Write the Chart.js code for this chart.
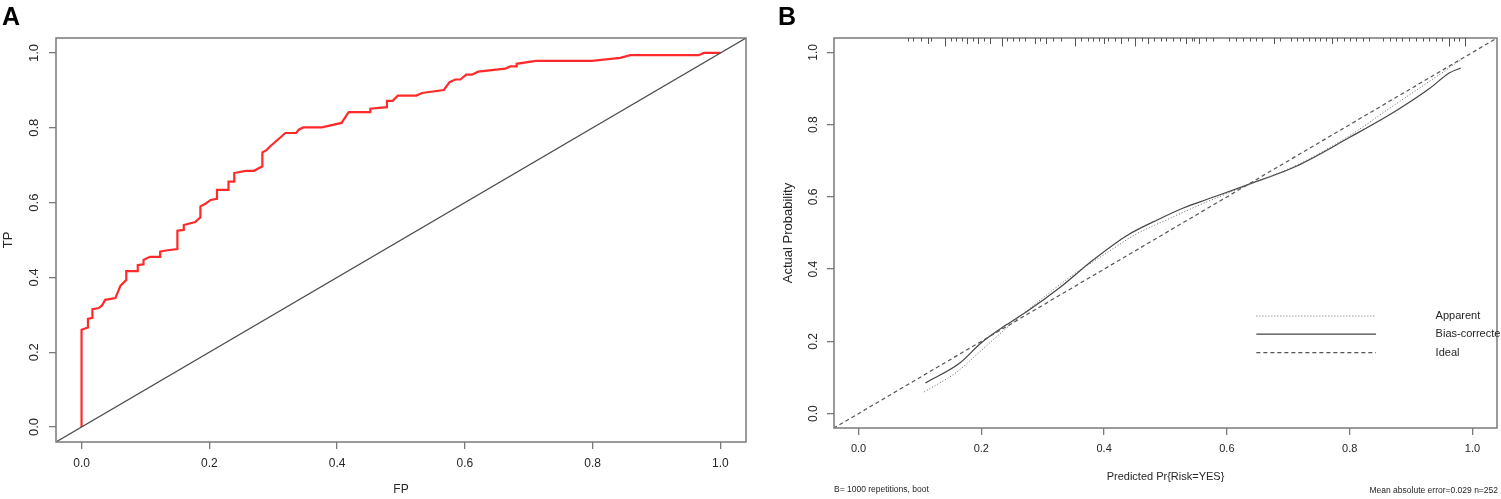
<!DOCTYPE html>
<html>
<head>
<meta charset="utf-8">
<script src="https://cdn.jsdelivr.net/npm/chart.js@4.4.0/dist/chart.umd.min.js"></script>
<style>
  html, body { margin: 0; padding: 0; background: #fff; overflow: hidden; }
  #wrapA { position: absolute; left: 0; top: 0; width: 750px; height: 499px; }
  #wrapB { position: absolute; left: 760px; top: 0; width: 741px; height: 499px; }
</style>
</head>
<body>
<div id="wrapA"><canvas id="rocChart" width="750" height="499"></canvas></div>
<div id="wrapB"><canvas id="calChart" width="741" height="499"></canvas></div>
<script>
// Panel A - ROC curve (false positive rate vs true positive rate)
const rocFP = [0, 0, 0.01, 0.01, 0.017, 0.017, 0.027, 0.032, 0.037, 0.053, 0.061, 0.07, 0.07, 0.088, 0.088,
  0.097, 0.097, 0.107, 0.123, 0.123, 0.132, 0.15, 0.15, 0.16, 0.16, 0.178, 0.186, 0.186, 0.194, 0.202,
  0.212, 0.212, 0.23, 0.23, 0.239, 0.239, 0.257, 0.27, 0.283, 0.283, 0.29, 0.295, 0.319, 0.336, 0.34,
  0.347, 0.376, 0.407, 0.418, 0.452, 0.452, 0.466, 0.478, 0.478, 0.487, 0.495, 0.524, 0.533, 0.567,
  0.576, 0.585, 0.593, 0.602, 0.611, 0.621, 0.663, 0.671, 0.681, 0.681, 0.711, 0.799, 0.843, 0.859,
  0.966, 0.974, 1.0];
const rocTP = [0, 0.26, 0.266, 0.289, 0.292, 0.315, 0.318, 0.325, 0.34, 0.345, 0.378, 0.393, 0.417, 0.417, 0.433,
  0.435, 0.447, 0.455, 0.455, 0.469, 0.472, 0.476, 0.525, 0.527, 0.54, 0.548, 0.561, 0.59, 0.597, 0.607,
  0.61, 0.634, 0.634, 0.656, 0.656, 0.679, 0.685, 0.685, 0.697, 0.734, 0.741, 0.75, 0.786, 0.786, 0.795,
  0.801, 0.801, 0.813, 0.842, 0.842, 0.851, 0.853, 0.855, 0.872, 0.872, 0.886, 0.886, 0.893, 0.901,
  0.922, 0.929, 0.929, 0.942, 0.942, 0.95, 0.958, 0.964, 0.964, 0.971, 0.979, 0.979, 0.987, 0.994,
  0.994, 1.0, 1.0];
const chanceLine = [-0.1, 1.1];

// Panel B - calibration curve
const apparentX = [0.107, 0.16, 0.2, 0.25, 0.3, 0.35, 0.4, 0.45, 0.5, 0.57, 0.63, 0.72, 0.8, 0.875, 0.93, 0.98];
const apparentY = [0.06, 0.115, 0.175, 0.25, 0.32, 0.385, 0.44, 0.495, 0.535, 0.588, 0.63, 0.693, 0.77, 0.857, 0.92, 0.978];
const biasX = [0.109, 0.165, 0.2, 0.24, 0.273, 0.328, 0.382, 0.436, 0.49, 0.53, 0.569, 0.631, 0.713, 0.8, 0.875, 0.93, 0.962, 0.981];
const biasY = [0.085, 0.14, 0.196, 0.245, 0.281, 0.349, 0.425, 0.492, 0.539, 0.57, 0.594, 0.632, 0.685, 0.765, 0.838, 0.9, 0.943, 0.957];
const idealLine = [-0.1, 1.1];
const rugValues = [0.080, 0.089, 0.101, 0.113, 0.118, 0.140, 0.150, 0.159, 0.168, 0.177, 0.187, 0.195, 0.204,
  0.214, 0.233, 0.242, 0.252, 0.261, 0.271, 0.287, 0.295, 0.306, 0.317, 0.330, 0.352, 0.363, 0.373, 0.382,
  0.391, 0.400, 0.407, 0.417, 0.428, 0.439, 0.451, 0.461, 0.471, 0.481, 0.493, 0.501, 0.512, 0.523, 0.534,
  0.543, 0.547, 0.555, 0.566, 0.577, 0.604, 0.615, 0.626, 0.637, 0.648, 0.658, 0.677, 0.686, 0.705, 0.714,
  0.724, 0.733, 0.743, 0.752, 0.762, 0.771, 0.780, 0.790, 0.800, 0.810, 0.821, 0.832, 0.854, 0.865, 0.876,
  0.886, 0.897, 0.908, 0.919, 0.930, 0.941, 0.951, 0.961, 0.970, 0.978, 0.988];
const rugCounts = [1, 1, 1, 2, 1, 3, 1, 1, 1, 2, 1, 2, 1,
  2, 3, 1, 1, 1, 1, 2, 1, 2, 1, 1, 3, 1, 1, 1,
  1, 2, 1, 1, 2, 1, 3, 1, 2, 1, 1, 1, 1, 1, 2,
  1, 1, 2, 1, 1, 1, 1, 1, 1, 1, 1, 2, 1, 1, 1,
  1, 1, 1, 1, 1, 2, 1, 1, 1, 1, 1, 1, 1, 1, 1,
  1, 1, 1, 1, 1, 1, 1, 3, 1, 1, 3];

const axisTicks = [0, 0.2, 0.4, 0.6, 0.8, 1.0];
const tickLabels = ['0.0', '0.2', '0.4', '0.6', '0.8', '1.0'];
const legendLabels = ['Apparent', 'Bias-corrected', 'Ideal'];

const FONT = '"Liberation Sans", Arial, sans-serif';
const BOX = '#7a7a7a';

function toPoints(xs, ys) {
  return xs.map((x, i) => ({ x: x, y: ys[i] }));
}

function makeScales(yWidth, xHeight, fontSize) {
  const common = {
    type: 'linear',
    min: -0.04,
    max: 1.04,
    afterBuildTicks: (scale) => { scale.ticks = axisTicks.map(v => ({ value: v })); },
    grid: { drawOnChartArea: false, drawTicks: true, tickLength: 7, color: BOX, lineWidth: 1.3 },
    border: { display: false }
  };
  return {
    x: Object.assign({}, common, {
      afterFit: (scale) => { scale.height = xHeight; },
      ticks: {
        padding: 7,
        color: '#262626',
        font: { family: FONT, size: fontSize },
        callback: (v, i) => tickLabels[i]
      }
    }),
    y: Object.assign({}, common, {
      afterFit: (scale) => { scale.width = yWidth; },
      ticks: { display: false }
    })
  };
}

// shared drawing: plot box and rotated y tick labels (R style)
function drawFrame(chart, labelOffset, fontSize) {
  const ctx = chart.ctx;
  const a = chart.chartArea;
  const yScale = chart.scales.y;
  ctx.save();
  ctx.strokeStyle = BOX;
  ctx.lineWidth = 1.5;
  ctx.strokeRect(a.left, a.top, a.right - a.left, a.bottom - a.top);
  ctx.fillStyle = '#262626';
  ctx.font = fontSize + 'px ' + FONT;
  ctx.textAlign = 'center';
  ctx.textBaseline = 'middle';
  yScale.ticks.forEach((t, i) => {
    const y = yScale.getPixelForValue(t.value);
    ctx.save();
    ctx.translate(a.left - labelOffset, y);
    ctx.rotate(-Math.PI / 2);
    ctx.fillText(tickLabels[i], 0, 0);
    ctx.restore();
  });
  ctx.restore();
}

function drawRotated(ctx, text, x, y) {
  ctx.save();
  ctx.translate(x, y);
  ctx.rotate(-Math.PI / 2);
  ctx.fillText(text, 0, 0);
  ctx.restore();
}

const rocDecor = {
  id: 'rocDecor',
  afterDraw(chart) {
    const ctx = chart.ctx;
    const a = chart.chartArea;
    drawFrame(chart, 22, 13);
    ctx.save();
    ctx.fillStyle = '#262626';
    ctx.font = '13px ' + FONT;
    ctx.textAlign = 'center';
    ctx.textBaseline = 'middle';
    drawRotated(ctx, 'TP', 8, (a.top + a.bottom) / 2);
    ctx.font = '12px ' + FONT;
    ctx.fillText('FP', (a.left + a.right) / 2, 490);
    ctx.fillStyle = '#000';
    ctx.font = 'bold 25px ' + FONT;
    ctx.textAlign = 'left';
    ctx.textBaseline = 'alphabetic';
    ctx.fillText('A', 2, 25);
    ctx.restore();
  }
};

const calDecor = {
  id: 'calDecor',
  afterDraw(chart) {
    const ctx = chart.ctx;
    const a = chart.chartArea;
    const xs = chart.scales.x;
    const ys = chart.scales.y;
    drawFrame(chart, 20, 12);

    // rug of predicted values along the top edge
    ctx.save();
    ctx.strokeStyle = '#555';
    ctx.lineWidth = 1;
    rugValues.forEach((v, i) => {
      const px = Math.round(xs.getPixelForValue(v)) + 0.5;
      ctx.beginPath();
      ctx.moveTo(px, a.top);
      ctx.lineTo(px, a.top + 1 + 2.5 * rugCounts[i]);
      ctx.stroke();
    });
    ctx.restore();

    // legend inside plot
    const styles = [
      { dash: [1, 2], width: 1, color: '#666' },
      { dash: [], width: 1.2, color: '#444' },
      { dash: [4, 3], width: 1.2, color: '#555' }
    ];
    const legendY = [0.27, 0.22, 0.169];
    ctx.save();
    ctx.font = '11px ' + FONT;
    ctx.textAlign = 'left';
    ctx.textBaseline = 'middle';
    legendLabels.forEach((lab, i) => {
      const y = ys.getPixelForValue(legendY[i]);
      ctx.strokeStyle = styles[i].color;
      ctx.lineWidth = styles[i].width;
      ctx.setLineDash(styles[i].dash);
      ctx.beginPath();
      ctx.moveTo(xs.getPixelForValue(0.648), y);
      ctx.lineTo(xs.getPixelForValue(0.843), y);
      ctx.stroke();
      ctx.fillStyle = '#262626';
      ctx.fillText(lab, xs.getPixelForValue(0.94), y);
    });
    ctx.setLineDash([]);

    // axis titles and notes
    ctx.fillStyle = '#262626';
    ctx.textAlign = 'center';
    ctx.font = '13px ' + FONT;
    drawRotated(ctx, 'Actual Probability', 28, (a.top + a.bottom) / 2);
    ctx.font = '11px ' + FONT;
    ctx.fillText('Predicted Pr{Risk=YES}', (a.left + a.right) / 2, 477);
    ctx.font = '8.5px ' + FONT;
    ctx.textAlign = 'left';
    ctx.fillText('B= 1000 repetitions, boot', a.left, 490);
    ctx.textAlign = 'right';
    ctx.fillText('Mean absolute error=0.029 n=252', chart.width - 3, 491);
    ctx.fillStyle = '#000';
    ctx.font = 'bold 25px ' + FONT;
    ctx.textAlign = 'left';
    ctx.textBaseline = 'alphabetic';
    ctx.fillText('B', 18, 25);
    ctx.restore();
  }
};

const baseOptions = {
  responsive: false,
  devicePixelRatio: 1,
  animation: false,
  plugins: { legend: { display: false }, tooltip: { enabled: false } },
  elements: { point: { radius: 0 } }
};

new Chart(document.getElementById('rocChart').getContext('2d'), {
  type: 'scatter',
  data: {
    datasets: [
      {
        label: 'chance',
        data: toPoints(chanceLine, chanceLine),
        showLine: true,
        borderColor: '#4d4d4d',
        borderWidth: 1.2,
        pointRadius: 0
      },
      {
        label: 'ROC',
        data: toPoints(rocFP, rocTP),
        showLine: true,
        borderColor: '#ff2b2b',
        borderWidth: 2.2,
        pointRadius: 0
      }
    ]
  },
  options: Object.assign({}, baseOptions, {
    layout: { padding: { left: 0, top: 38, right: 4, bottom: 0 } },
    scales: makeScales(56, 57, 12)
  }),
  plugins: [rocDecor]
});

new Chart(document.getElementById('calChart').getContext('2d'), {
  type: 'scatter',
  data: {
    datasets: [
      {
        label: 'Ideal',
        data: toPoints(idealLine, idealLine),
        showLine: true,
        borderColor: '#555',
        borderWidth: 1.2,
        borderDash: [4, 3],
        pointRadius: 0
      },
      {
        label: 'Apparent',
        data: toPoints(apparentX, apparentY),
        showLine: true,
        borderColor: '#666',
        borderWidth: 1,
        borderDash: [1, 2],
        cubicInterpolationMode: 'monotone',
        pointRadius: 0
      },
      {
        label: 'Bias-corrected',
        data: toPoints(biasX, biasY),
        showLine: true,
        borderColor: '#444',
        borderWidth: 1.2,
        cubicInterpolationMode: 'monotone',
        pointRadius: 0
      }
    ]
  },
  options: Object.assign({}, baseOptions, {
    layout: { padding: { left: 0, top: 38, right: 4, bottom: 0 } },
    scales: makeScales(74, 71, 11)
  }),
  plugins: [calDecor]
});
</script>
</body>
</html>
